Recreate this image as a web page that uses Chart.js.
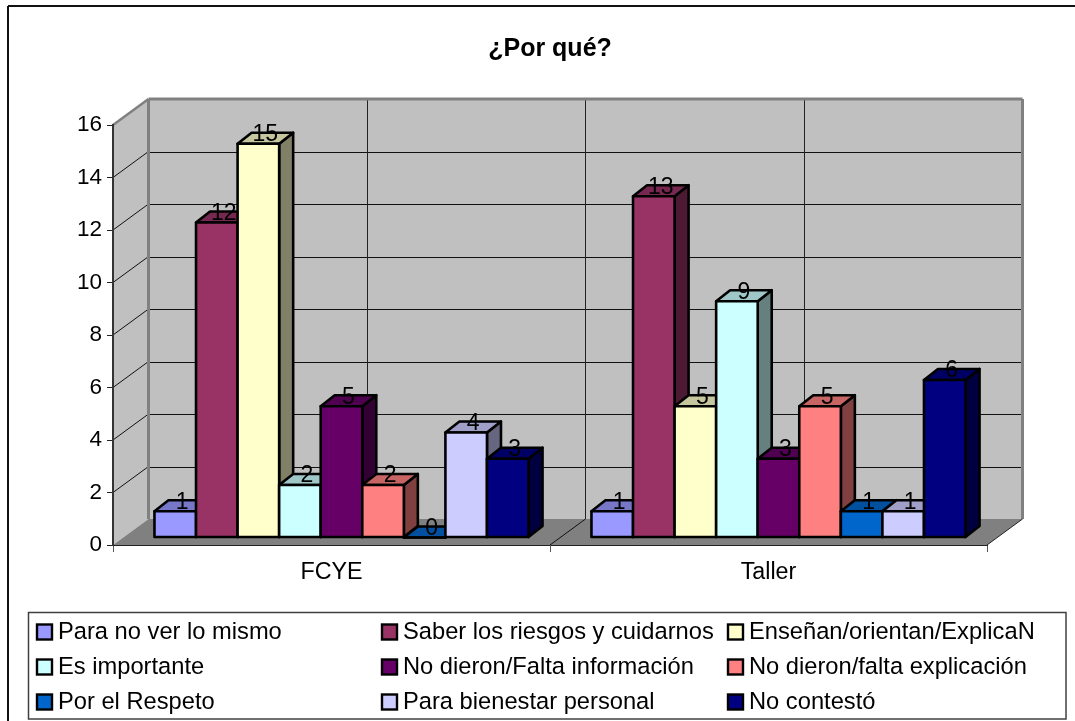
<!DOCTYPE html>
<html>
<head>
<meta charset="utf-8">
<title>¿Por qué?</title>
<script src="https://cdn.jsdelivr.net/npm/chart.js@4"></script>
<style>
    html, body { margin: 0; padding: 0; background: #fff; overflow: hidden; }
    canvas { display: block; }
</style>
</head>
<body>
<canvas id="porqueChart" width="1075" height="721"></canvas>
<script>
const categories = ['FCYE', 'Taller'];
const seriesNames = [
    'Para no ver lo mismo', 'Saber los riesgos y cuidarnos', 'Enseñan/orientan/ExplicaN',
    'Es importante', 'No dieron/Falta información', 'No dieron/falta explicación',
    'Por el Respeto', 'Para bienestar personal', 'No contestó'
];
const paraNoVer = [1, 1];
const saberRiesgos = [12, 13];
const ensenan = [15, 5];
const esImportante = [2, 9];
const faltaInformacion = [5, 3];
const faltaExplicacion = [2, 5];
const porRespeto = [0, 1];
const bienestar = [4, 1];
const noContesto = [3, 6];
const seriesValues = [paraNoVer, saberRiesgos, ensenan, esImportante, faltaInformacion,
    faltaExplicacion, porRespeto, bienestar, noContesto];
const seriesColors = ['#9999FF', '#993366', '#FFFFCC', '#CCFFFF', '#660066', '#FF8080', '#0066CC', '#CCCCFF', '#000080'];
const yTickValues = [0, 2, 4, 6, 8, 10, 12, 14, 16];

// fake 3D: back wall offset and how far the bars sit inside the box
const WALL_DX = 35.5, WALL_DY = -26;
const BAR_SHIFT_X = 10, BAR_SHIFT_Y = -7.5;
const BAR_DX = 14, BAR_DY = -11;

function shade(hex, f) {
    const n = parseInt(hex.slice(1), 16);
    const r = Math.round((n >> 16 & 255) * f);
    const g = Math.round((n >> 8 & 255) * f);
    const b = Math.round((n & 255) * f);
    return 'rgb(' + r + ',' + g + ',' + b + ')';
}

function poly(ctx, pts, fill, stroke, lw) {
    ctx.beginPath();
    pts.forEach((p, i) => i ? ctx.lineTo(p[0], p[1]) : ctx.moveTo(p[0], p[1]));
    ctx.closePath();
    if (fill) { ctx.fillStyle = fill; ctx.fill(); }
    if (stroke) { ctx.strokeStyle = stroke; ctx.lineWidth = lw; ctx.lineJoin = 'round'; ctx.stroke(); }
}

function seg(ctx, x1, y1, x2, y2, color, lw) {
    ctx.beginPath();
    ctx.moveTo(x1, y1);
    ctx.lineTo(x2, y2);
    ctx.strokeStyle = color;
    ctx.lineWidth = lw;
    ctx.stroke();
}

const box3d = {
    id: 'box3d',
    beforeDraw(chart) {
        const { ctx, chartArea: a, scales } = chart;
        const dx = WALL_DX, dy = WALL_DY;
        ctx.save();
        // outer frame, only top and left show in the shot
        seg(ctx, 8, 6, 1075, 6, '#111', 2);
        seg(ctx, 8, 6, 8, 721, '#111', 2);
        // walls and floor
        poly(ctx, [[a.left + dx, a.top + dy], [a.right + dx, a.top + dy], [a.right + dx, a.bottom + dy], [a.left + dx, a.bottom + dy]], '#C0C0C0');
        poly(ctx, [[a.left, a.top], [a.left + dx, a.top + dy], [a.left + dx, a.bottom + dy], [a.left, a.bottom]], '#C0C0C0');
        poly(ctx, [[a.left, a.bottom], [a.right, a.bottom], [a.right + dx, a.bottom + dy], [a.left + dx, a.bottom + dy]], '#808080');
        // gridlines on both walls
        yTickValues.forEach(v => {
            const y = scales.y.getPixelForValue(v);
            if (v > 0 && v < 16) {
                seg(ctx, a.left, y, a.left + dx, y + dy, '#111', 1);
                seg(ctx, a.left + dx, Math.round(y + dy) + 0.5, a.right + dx, Math.round(y + dy) + 0.5, '#111', 1);
            }
        });
        const midX = (a.left + a.right) / 2;
        seg(ctx, midX, a.bottom, midX + dx, a.bottom + dy, '#111', 1);
        categories.forEach((c, i) => {
            const gx = scales.x.getPixelForValue(i) + dx;
            seg(ctx, Math.round(gx) + 0.5, a.top + dy, Math.round(gx) + 0.5, a.bottom + dy, '#222', 1);
        });
        seg(ctx, midX + dx, a.top + dy, midX + dx, a.bottom + dy, '#222', 1);
        // box edges
        seg(ctx, a.left, a.top, a.left + dx, a.top + dy, '#808080', 2.5);
        seg(ctx, a.left + dx, a.top + dy, a.right + dx, a.top + dy, '#808080', 3);
        seg(ctx, a.right + dx, a.top + dy, a.right + dx, a.bottom + dy, '#808080', 3);
        seg(ctx, a.left + dx, a.top + dy, a.left + dx, a.bottom + dy, '#808080', 3);
        seg(ctx, a.right, a.bottom, a.right + dx, a.bottom + dy, '#222', 1);
        ctx.restore();
    },
    beforeDatasetDraw() {
        // bars are painted left to right below so each one covers the side of the last
        return false;
    },
    afterDatasetsDraw(chart) {
        const ctx = chart.ctx;
        const sx = BAR_SHIFT_X, sy = BAR_SHIFT_Y, dx = BAR_DX, dy = BAR_DY;
        ctx.save();
        ctx.translate(sx, sy);
        chart.data.labels.forEach((c, ci) => {
            chart.getSortedVisibleDatasetMetas().slice().sort((p, q) => p.index - q.index).forEach(meta => {
                const color = seriesColors[meta.index];
                const bar = meta.data[ci];
                const left = bar.x - bar.width / 2, right = bar.x + bar.width / 2;
                const top = bar.y, base = bar.base;
                poly(ctx, [[right, top], [right + dx, top + dy], [right + dx, base + dy], [right, base]], shade(color, 0.5), '#000', 2.6);
                poly(ctx, [[left, top], [left + dx, top + dy], [right + dx, top + dy], [right, top]], shade(color, 0.78), '#000', 2.6);
                bar.draw(ctx);
                ctx.strokeStyle = '#000';
                ctx.lineWidth = 2.6;
                ctx.strokeRect(left, top, right - left, base - top);
                ctx.fillStyle = '#000';
                ctx.font = '23px "Liberation Sans"';
                ctx.textAlign = 'center';
                ctx.textBaseline = 'middle';
                ctx.fillText(seriesValues[meta.index][ci], bar.x + dx / 2, top + dy + 2);
            });
        });
        ctx.restore();
    },
    afterDraw(chart) {
        const ctx = chart.ctx;
        ctx.save();
        ctx.strokeStyle = '#404040';
        ctx.lineWidth = 1.5;
        ctx.strokeRect(28.5, 612.5, 1037.5, 106.5);
        ctx.font = '23.7px "Liberation Sans"';
        ctx.textBaseline = 'middle';
        ctx.textAlign = 'left';
        const colX = [37, 382, 728];
        const rowY = [632, 667, 702];
        seriesNames.forEach((name, i) => {
            const x = colX[i % 3], y = rowY[Math.floor(i / 3)];
            ctx.fillStyle = seriesColors[i];
            ctx.fillRect(x, y - 7.5, 15, 15);
            ctx.strokeStyle = '#000';
            ctx.lineWidth = 2.4;
            ctx.strokeRect(x, y - 7.5, 15, 15);
            ctx.fillStyle = '#000';
            ctx.fillText(name, x + 21, y);
        });
        ctx.restore();
    }
};

document.addEventListener('DOMContentLoaded', function() {
    new Chart(document.getElementById('porqueChart'), {
        type: 'bar',
        data: {
            labels: categories,
            datasets: seriesNames.map((name, i) => ({
                label: name,
                data: seriesValues[i],
                backgroundColor: seriesColors[i],
                borderWidth: 0
            }))
        },
        options: {
            responsive: false,
            animation: false,
            layout: { padding: { left: 0, right: 88, top: 0, bottom: 126 } },
            datasets: { bar: { categoryPercentage: 0.856, barPercentage: 1 } },
            plugins: {
                legend: { display: false },
                tooltip: { enabled: false },
                title: {
                    display: true,
                    text: '¿Por qué?',
                    fullSize: false,
                    color: '#000',
                    font: { family: '"Liberation Sans"', size: 25, weight: 'bold', lineHeight: 1 },
                    padding: { top: 37, bottom: 63 }
                }
            },
            scales: {
                x: {
                    afterFit(scale) { scale.height = 50; },
                    grid: { drawOnChartArea: false, tickLength: 7, color: '#555' },
                    border: { color: '#222', width: 1 },
                    ticks: {
                        color: '#000',
                        padding: 7,
                        maxRotation: 0,
                        font: { family: '"Liberation Sans"', size: 23.3 }
                    }
                },
                y: {
                    min: 0,
                    max: 16,
                    afterFit(scale) { scale.width = 113; },
                    afterBuildTicks(scale) { scale.ticks = yTickValues.map(v => ({ value: v })); },
                    grid: { drawOnChartArea: false, tickLength: 6, color: '#222' },
                    border: { color: '#333', width: 2 },
                    ticks: {
                        color: '#000',
                        padding: 5,
                        font: { family: '"Liberation Sans"', size: 22.5 }
                    }
                }
            }
        },
        plugins: [box3d]
    });
});
</script>
</body>
</html>
